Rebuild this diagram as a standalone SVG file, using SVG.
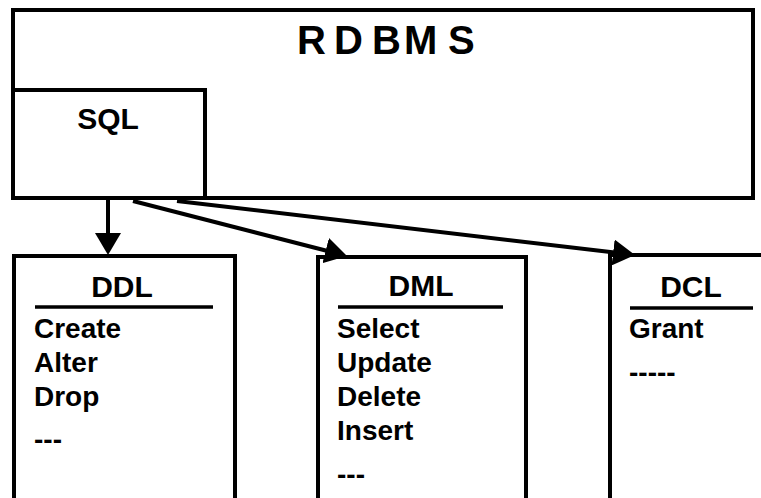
<svg xmlns="http://www.w3.org/2000/svg" width="761" height="498" viewBox="0 0 761 498">
  <style>
    .box { fill: none; stroke: #000; stroke-width: 4; }
    .rule { stroke: #000; stroke-width: 3.5; }
    .conn { fill: none; stroke: #000; stroke-width: 4; }
    text { font-family: "Liberation Sans", Arial, sans-serif; font-weight: bold; fill: #000; }
    .title { font-size: 40px; }
    .head { font-size: 30px; text-anchor: middle; }
    .item { font-size: 28px; }
  </style>
  <defs>
    <marker id="arrow" viewBox="0 0 22 26" markerWidth="22" markerHeight="26" refX="10" refY="13" orient="auto" markerUnits="userSpaceOnUse">
      <path d="M0,0 L22,13 L0,26 Z" fill="#000"/>
    </marker>
  </defs>
  <rect width="761" height="498" fill="#fff"/>

  <g id="rdbms">
    <rect class="box" x="13" y="10" width="740" height="188"/>
    <text class="title" x="297 334 372 404 448" y="54">RDBMS</text>
  </g>

  <g id="sql">
    <rect class="box" x="13" y="90" width="192" height="108"/>
    <text class="head" x="108" y="129">SQL</text>
  </g>

  <g id="ddl">
    <path class="box" d="M14,502 V256 H235 V502"/>
    <text class="head" x="122" y="297">DDL</text>
    <line class="rule" x1="35" y1="307" x2="213" y2="307"/>
    <text class="item" x="34" y="338">Create</text>
    <text class="item" x="34" y="372">Alter</text>
    <text class="item" x="34" y="406">Drop</text>
    <text class="item" x="34" y="449">---</text>
  </g>

  <g id="dml">
    <path class="box" d="M318,502 V257 H526 V502"/>
    <text class="head" x="421" y="296">DML</text>
    <line class="rule" x1="338" y1="307" x2="503" y2="307"/>
    <text class="item" x="337" y="338">Select</text>
    <text class="item" x="337" y="372">Update</text>
    <text class="item" x="337" y="406">Delete</text>
    <text class="item" x="337" y="440">Insert</text>
    <text class="item" x="337" y="484">---</text>
  </g>

  <g id="dcl">
    <path class="box" d="M610,502 V255 H765"/>
    <text class="head" x="691" y="297">DCL</text>
    <line class="rule" x1="630" y1="308" x2="753" y2="308"/>
    <text class="item" x="629" y="338">Grant</text>
    <text class="item" x="629" y="382">-----</text>
  </g>

  <g id="connectors">
    <line class="conn" x1="108" y1="198" x2="108" y2="243" marker-end="url(#arrow)"/>
    <line class="conn" x1="133" y1="201" x2="335.4" y2="253" marker-end="url(#arrow)"/>
    <line class="conn" x1="177" y1="201" x2="623.1" y2="253.6" marker-end="url(#arrow)"/>
  </g>
</svg>
